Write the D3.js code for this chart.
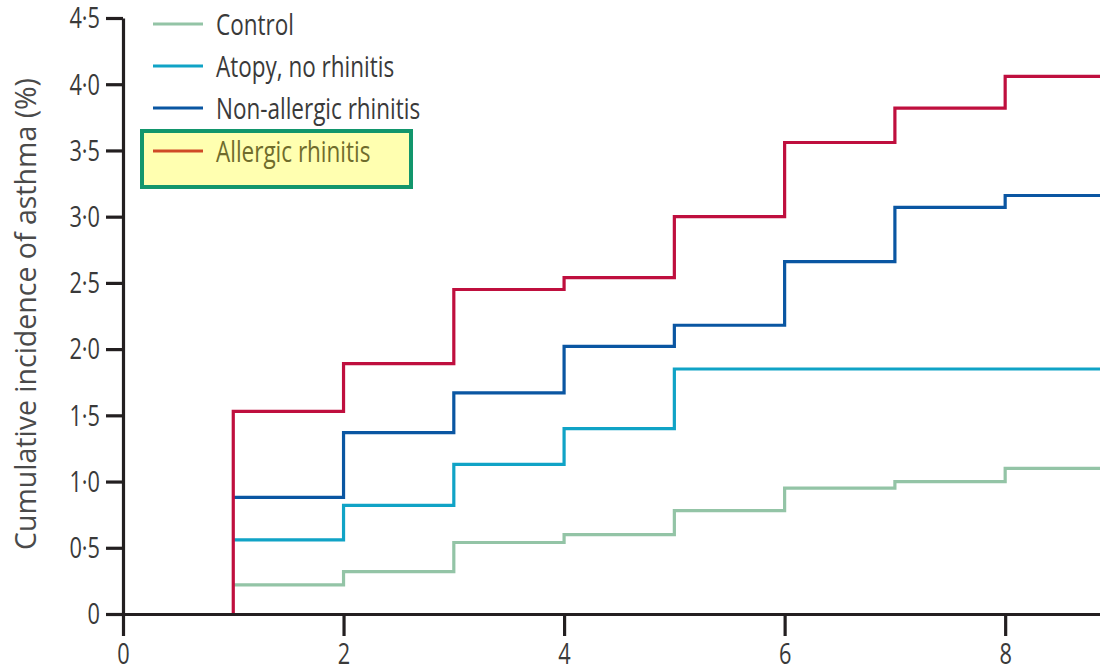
<!DOCTYPE html>
<html>
<head>
<meta charset="utf-8">
<script src="https://cdn.jsdelivr.net/npm/d3@7"></script>
<style>
  html, body { margin: 0; padding: 0; background: #ffffff; }
  svg { display: block; }
  text { font-family: "Open Sans", "Noto Sans", sans-serif; fill: #3a3a3a; }
</style>
</head>
<body>
<svg id="chart" width="1100" height="672"></svg>
<script>
// Follow-up years at which each cumulative-incidence step occurs
const years = [1, 2, 3, 4, 5, 6, 7, 8];

// Cumulative incidence of asthma (%) per group, one value per year
const control         = [0.22, 0.32, 0.54, 0.60, 0.78, 0.95, 1.00, 1.10];
const atopyNoRhinitis = [0.56, 0.82, 1.13, 1.40, 1.85, 1.85, 1.85, 1.85];
const nonAllergic     = [0.88, 1.37, 1.67, 2.02, 2.18, 2.66, 3.07, 3.16];
const allergic        = [1.53, 1.89, 2.45, 2.54, 3.00, 3.56, 3.82, 4.06];

const seriesNames  = ["Control", "Atopy, no rhinitis", "Non-allergic rhinitis", "Allergic rhinitis"];
const seriesColors = ["#93c4a6", "#10a3c6", "#0a56a2", "#bf0f3e"];

const yTicks = [0, 0.5, 1, 1.5, 2, 2.5, 3, 3.5, 4, 4.5];
const xTicks = [0, 2, 4, 6, 8];
const xMax = 8.86;

const svg = d3.select("#chart");
const x = d3.scaleLinear().domain([0, xMax]).range([123, 1100]);
const y = d3.scaleLinear().domain([0, 4.5]).range([614, 18]);

const SQ = 0.75;  // horizontal squeeze for the narrow typeface look
const FS = 29;

function squeeze(sel) {
  sel.each(function () {
    const t = d3.select(this);
    const x0 = +t.attr("x") || 0;
    t.attr("x", 0).attr("transform", `translate(${x0},0) scale(${SQ},1)`);
  });
}

// Step curves
const line = d3.line()
  .x(d => x(d[0]))
  .y(d => y(d[1]))
  .curve(d3.curveStepAfter);

const allSeries = [control, atopyNoRhinitis, nonAllergic, allergic];
allSeries.forEach((vals, i) => {
  const pts = years.map((t, j) => [t, vals[j]]);
  if (i === 3) pts.unshift([years[0], 0]);
  pts.push([xMax, vals[vals.length - 1]]);
  svg.append("path")
    .attr("d", line(pts))
    .attr("fill", "none")
    .attr("stroke", seriesColors[i])
    .attr("stroke-width", 3.2)
    .attr("stroke-linejoin", "miter");
});

// Axes
const fmt = d => d === 0 ? "0" : d.toFixed(1).replace(".", "\u00b7");

const yAxis = svg.append("g")
  .attr("transform", `translate(${x(0)},0)`)
  .call(d3.axisLeft(y).tickValues(yTicks).tickFormat(fmt).tickSize(17).tickSizeOuter(0).tickPadding(6));
const xAxis = svg.append("g")
  .attr("transform", `translate(0,${y(0)})`)
  .call(d3.axisBottom(x).tickValues(xTicks).tickFormat(d3.format("d")).tickSize(22).tickSizeOuter(0).tickPadding(8));

[yAxis, xAxis].forEach(g => {
  g.select(".domain").attr("stroke", "#231f20").attr("stroke-width", 3.2);
  g.selectAll(".tick line").attr("stroke", "#231f20").attr("stroke-width", 3.2);
  g.selectAll(".tick text").attr("font-size", FS).attr("fill", "#3a3a3a")
    .style("font-family", "'Open Sans', sans-serif");
});
yAxis.selectAll(".tick text").attr("dy", "0.34em");
squeeze(yAxis.selectAll(".tick text"));
xAxis.selectAll(".tick text").attr("dy", "0.7em").each(function () {
  const t = d3.select(this);
  const y0 = +t.attr("y") || 0;
  t.attr("y", 0).attr("transform", `translate(0,${y0}) scale(${SQ},1)`);
});

// Y axis title
svg.append("text")
  .attr("transform", "translate(36,314) rotate(-90)")
  .attr("text-anchor", "middle")
  .attr("font-size", 28.5)
  .style("fill", "#4a4a4a")
  .text("Cumulative incidence of asthma (%)");

// Legend
const legendY = [24, 66, 108, 151];
const hl = 3;  // highlighted entry
svg.append("rect")
  .attr("x", 142).attr("y", 131).attr("width", 269).attr("height", 56)
  .attr("fill", "#ffffb0")
  .attr("stroke", "#12966c").attr("stroke-width", 4);

const legend = svg.append("g").attr("class", "legend");
seriesNames.forEach((name, i) => {
  const g = legend.append("g").attr("transform", `translate(0,${legendY[i]})`);
  g.append("line")
    .attr("x1", 153).attr("x2", 203)
    .attr("stroke", i === hl ? "#cf4a26" : seriesColors[i])
    .attr("stroke-width", 3.2);
  g.append("text")
    .attr("x", 216).attr("dy", "0.36em")
    .attr("font-size", FS + 1)
    .style("fill", i === hl ? "#6f6c2c" : "#3a3a3a")
    .text(name);
});
squeeze(legend.selectAll("text"));
</script>
</body>
</html>
